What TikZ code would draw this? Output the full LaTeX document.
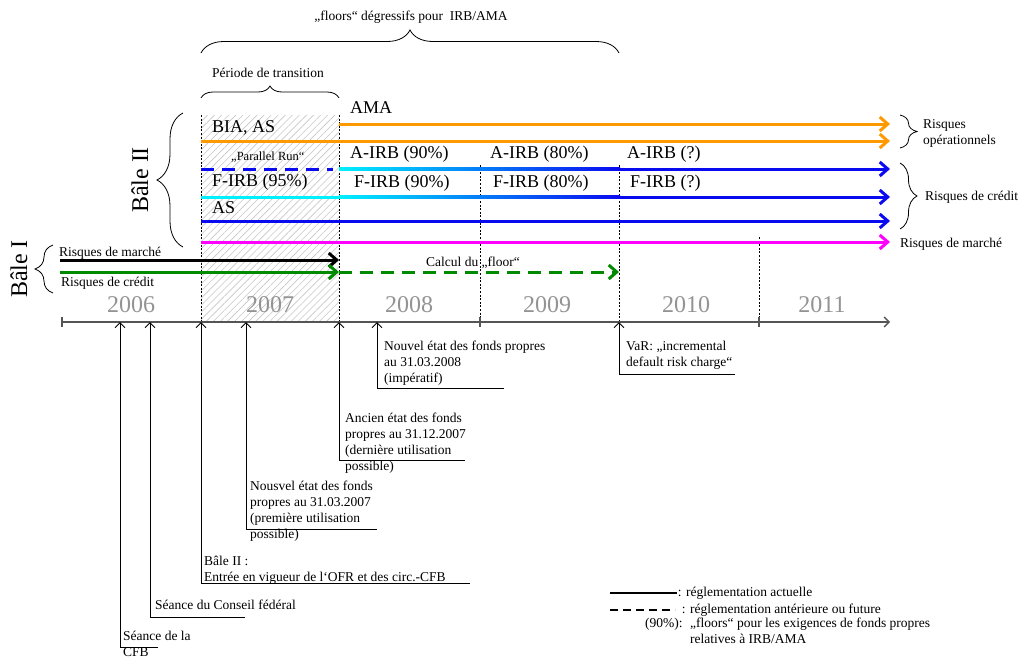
\documentclass[tikz,border=0pt]{standalone}
\usepackage{fontspec}
\setmainfont{Liberation Serif}
\usetikzlibrary{positioning,arrows.meta,decorations.pathreplacing,patterns.meta}

\definecolor{oporange}{HTML}{FF9900}
\definecolor{credblue}{HTML}{0A0AF0}
\definecolor{credcyan}{HTML}{00F0FF}
\definecolor{mktmag}{HTML}{FF00FF}
\definecolor{b1green}{HTML}{008A00}
\definecolor{axgray}{HTML}{555555}

\begin{document}
\begin{tikzpicture}[
  x=1pt, y=-1pt,
  font=\fontsize{13.5}{16}\selectfont,
  lbl/.style={inner sep=0pt, anchor=west},
  biglbl/.style={lbl, font=\fontsize{18}{21}\selectfont},
  yearlbl/.style={inner sep=0pt, text=gray!85, font=\fontsize{24}{28}\selectfont},
  note/.style={inner sep=0pt, anchor=north west, align=left},
  risk/.style={line width=3pt, -{Straight Barb[length=8pt,width=14pt]}},
  seg/.style={line width=3pt},
  dashseg/.style={line width=3pt, dash pattern=on 13pt off 8pt},
  guide/.style={line width=0.6pt, dash pattern=on 2pt off 1.6pt},
  evt/.style={line width=1pt, -{Straight Barb[length=5pt,width=10pt]}},
  axisline/.style={line width=1.3pt, axgray},
  brace/.style={decorate, decoration={brace, amplitude=#1}, line width=0.8pt},
  brace/.default=10
]
\useasboundingbox (0,0) rectangle (1034,662);

% --- transition period (hatched) ---
\fill[pattern={Lines[angle=45,distance=5pt,line width=0.6pt]}, pattern color=gray!45] (201,115) rectangle (339,322);
\foreach \xg/\yt in {201/115, 339/115, 480/165, 619/165, 759/237}
  \draw[guide] (\xg,\yt) -- (\xg,322);

% --- top braces ---
\draw[brace=23] (201,53) -- (619,53);
\node[inner sep=0pt] (floors) at (411,17) {„floors“ dégressifs pour\ \ IRB/AMA};
\draw[brace=12] (201,98) -- (339,98);
\node[inner sep=0pt] (trans) at (268,73) {Période de transition};

% --- Bale II ---
\draw[brace=26] (183,247) -- (183,113);
\node[rotate=90, inner sep=0pt, font=\fontsize{24}{28}\selectfont] (b2) at (140,180) {Bâle II};

\draw[risk, oporange] (339,124) -- (890,124);
\draw[risk, oporange] (201,141) -- (890,141);
\node[biglbl] (ama) at (350,108) {AMA};
\node[biglbl] (bia) at (212,128) {BIA, AS};

\draw[dashseg, credblue] (201,169) -- (333,169);
\shade[left color=credcyan, right color=credblue] (339,167.5) rectangle (620,170.5);
\draw[risk, credblue] (619,169) -- (890,169);
\node[lbl, font=\fontsize{12.5}{15}\selectfont] (prun) at (231,157) {„Parallel Run“};
\node[biglbl] (airb1) at (350,154) {A-IRB (90\%)};
\node[biglbl] (airb2) at (490,154) {A-IRB (80\%)};
\node[biglbl] (airb3) at (627,154) {A-IRB (?)};

\draw[seg, credcyan] (201,197) -- (339,197);
\shade[left color=credcyan, right color=credblue] (339,195.5) rectangle (620,198.5);
\draw[risk, credblue] (619,197) -- (890,197);
\node[biglbl] (firb0) at (212,182) {F-IRB (95\%)};
\node[biglbl] (firb1) at (354,183) {F-IRB (90\%)};
\node[biglbl] (firb2) at (493,183) {F-IRB (80\%)};
\node[biglbl] (firb3) at (630,183) {F-IRB (?)};

\draw[risk, credblue] (201,221) -- (890,221);
\node[biglbl] (as) at (212,208) {AS};
\draw[risk, mktmag] (201,242) -- (890,242);

% --- right braces ---
\draw[brace=17] (900,115) -- (900,148);
\node[lbl, align=left] (rop) at (923,133) {Risques\\opérationnels};
\draw[brace=17] (900,163) -- (900,229);
\node[lbl] (rcr) at (925,197) {Risques de crédit};
\node[lbl] (rmk) at (900,244) {Risques de marché};

% --- Bale I ---
\draw[brace=18] (53,293) -- (53,245);
\node[rotate=90, inner sep=0pt, font=\fontsize{24}{28}\selectfont] (b1) at (19,269) {Bâle I};
\draw[risk, black] (60,260) -- (339,260);
\draw[risk, b1green] (60,272) -- (339,272);
\draw[risk, b1green, dash pattern=on 13pt off 8pt] (339,272) -- (619,272);
\node[lbl] (b1mkt) at (59,253) {Risques de marché};
\node[lbl] (b1cr) at (61,283) {Risques de crédit};
\node[lbl] (calc) at (426,263) {Calcul du „floor“};

% --- time axis ---
\coordinate (ax0) at (62,322);
\coordinate (axE) at (890,322);
\draw[axisline, -{Straight Barb[length=5pt,width=10pt]}] (ax0) -- (axE);
\foreach \xt in {62, 480, 759}
  \draw[axisline] (\xt,317) -- (\xt,327);
\foreach \yr/\xc in {2006/131, 2007/270, 2008/409, 2009/547, 2010/686, 2011/822}
  \node[yearlbl] (y\yr) at (\xc,305) {\yr};

% --- events ---
\foreach \n/\xa/\yb/\xr in {cfb/120/647/158, conseil/150/617/245, entry/201/583/470, ofr/246/529/377, ancien/339/460/465, nouvel/377/388/504, var/619/374/735}
{
  \coordinate (e\n) at (\xa,322);
  \draw[evt] (\xr,\yb) -| (e\n);
}
\node[note] (ncfb) at (123,631) {Séance de la\\CFB};
\node[note] (nconseil) at (155,600) {Séance du Conseil fédéral};
\node[note] (nentry) at (204,556) {Bâle II :\\Entrée en vigueur de l‘OFR et des circ.-CFB};
\node[note] (nofr) at (250,481) {Nousvel état des fonds\\propres au 31.03.2007\\(première utilisation\\possible)};
\node[note] (nancien) at (345,413) {Ancien état des fonds\\propres au 31.12.2007\\(dernière utilisation\\possible)};
\node[note] (nnouvel) at (384,341) {Nouvel état des fonds propres\\au 31.03.2008\\(impératif)};
\node[note] (nvar) at (626,341) {VaR: „incremental\\default risk charge“};

% --- legend ---
\coordinate (lgA) at (610,593);
\coordinate (lgB) at (610,610);
\draw[line width=1.6pt] (lgA) -- ++(67,0) node[lbl, right=0pt] (lg1) {: réglementation actuelle};
\draw[line width=1.6pt, dash pattern=on 8pt off 5pt] (lgB) -- ++(65,0) node[lbl, right=6pt] (lg2) {: réglementation antérieure ou future};
\node[lbl] (lg3) at (645,624) {(90\%):};
\node[note] (lg4) at (690,618) {„floors“ pour les exigences de fonds propres\\relatives à IRB/AMA};

\end{tikzpicture}
\end{document}
